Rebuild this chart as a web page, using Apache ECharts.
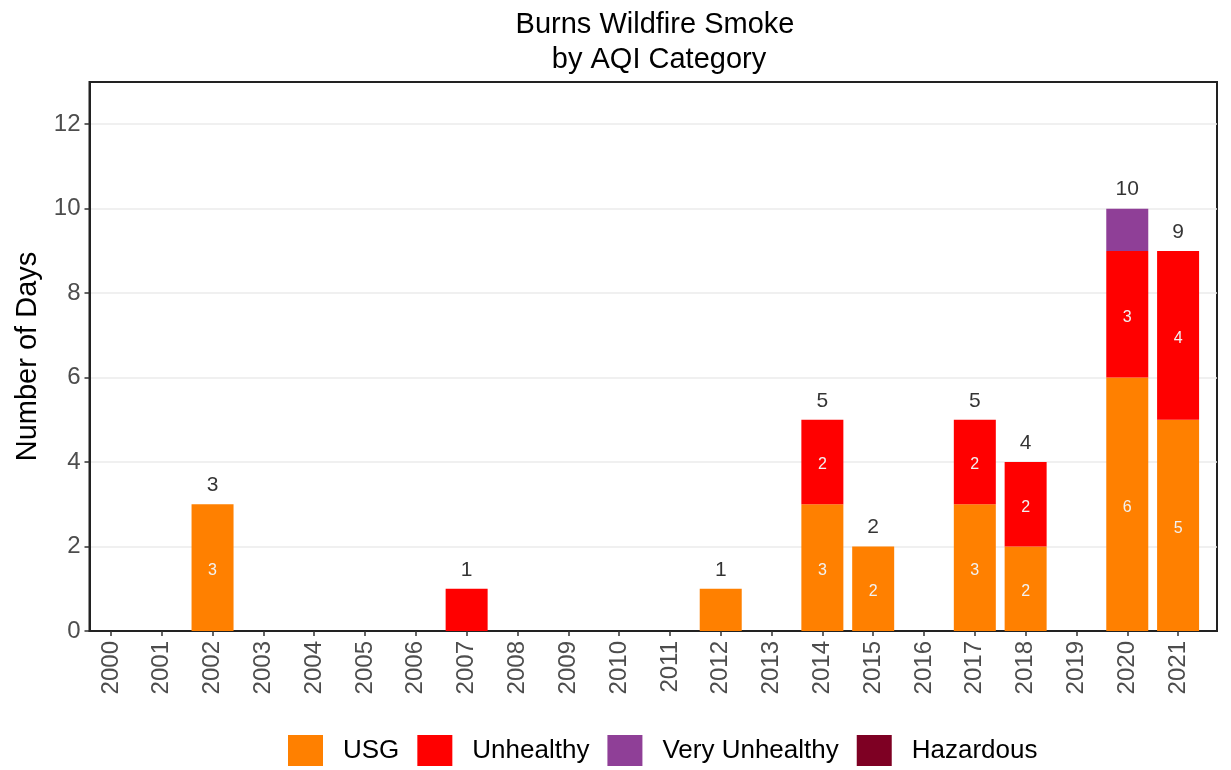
<!DOCTYPE html>
<html lang="en">
<head>
    <meta charset="UTF-8">
    <title>Burns Wildfire Smoke</title>
    <script src="https://cdn.jsdelivr.net/npm/echarts@6/dist/echarts.min.js"></script>
    <style>
        html, body { margin: 0; padding: 0; background: #fff; }
    </style>
</head>
<body>
    <div id="main" style="width:1231px;height:770px;"></div>

    <script type="text/javascript">
        // data
        var years = ['2000','2001','2002','2003','2004','2005','2006','2007','2008','2009','2010',
                     '2011','2012','2013','2014','2015','2016','2017','2018','2019','2020','2021'];
        var usg           = [null,null,3,null,null,null,null,null,null,null,null,null,1,null,3,2,null,3,2,null,6,5];
        var unhealthy     = [null,null,null,null,null,null,null,1,null,null,null,null,null,null,2,null,null,2,2,null,3,4];
        var veryUnhealthy = [null,null,null,null,null,null,null,null,null,null,null,null,null,null,null,null,null,null,null,null,1,null];
        var hazardous     = [null,null,null,null,null,null,null,null,null,null,null,null,null,null,null,null,null,null,null,null,null,null];
        var yTicks = [0, 2, 4, 6, 8, 10, 12];

        var font = 'Liberation Sans, Arial, sans-serif';

        // day count on top of each stack
        var totals = years.map(function (y, i) {
            var s = (usg[i] || 0) + (unhealthy[i] || 0) + (veryUnhealthy[i] || 0) + (hazardous[i] || 0);
            return s > 0 ? s : null;
        });

        function stackBar(name, values, color) {
            return {
                name: name,
                type: 'bar',
                stack: 'days',
                xAxisIndex: 1,
                yAxisIndex: 1,
                data: values,
                barWidth: 42,
                itemStyle: { color: color },
                label: {
                    show: true,
                    position: 'inside',
                    offset: [0, 3],
                    color: '#f2f2f2',
                    fontSize: 16,
                    fontFamily: font,
                    formatter: function (p) { return p.value >= 2 ? p.value : ''; }
                }
            };
        }

        var myChart = echarts.init(document.getElementById('main'));

        var option = {
            animation: false,
            title: {
                text: 'Burns Wildfire Smoke\n by AQI Category',
                left: 650,
                top: 2,
                textAlign: 'center',
                textStyle: {
                    fontFamily: font,
                    fontSize: 29,
                    fontWeight: 'normal',
                    color: '#000',
                    lineHeight: 35
                }
            },
            legend: {
                data: ['USG', 'Unhealthy', 'Very Unhealthy', 'Hazardous'],
                top: 735,
                left: 288,
                padding: 0,
                itemWidth: 35,
                itemHeight: 31,
                itemGap: 18,
                icon: 'rect',
                textStyle: { fontFamily: font, fontSize: 26, color: '#000', padding: [0, 0, 0, 15] }
            },
            // grid 0: panel frame and y scale, grid 1: the bars
            grid: [
                { left: 89.5, right: 14, top: 82, bottom: 139, show: true, borderColor: '#222', borderWidth: 2 },
                { left: 85.5, right: 27.5, top: 82, bottom: 139 }
            ],
            xAxis: [
                {
                    gridIndex: 0,
                    type: 'value',
                    min: 0,
                    max: 1,
                    axisLine: { show: true, lineStyle: { color: '#222', width: 2 } },
                    axisTick: { show: false },
                    axisLabel: { show: false },
                    splitLine: { show: false }
                },
                {
                    gridIndex: 1,
                    type: 'category',
                    data: years,
                    axisLine: { show: false },
                    axisTick: { show: true, alignWithLabel: true, length: 5, lineStyle: { color: '#333', width: 1.5 } },
                    axisLabel: {
                        rotate: 90,
                        interval: 0,
                        fontFamily: font,
                        fontSize: 24,
                        color: '#4d4d4d',
                        margin: 10
                    },
                    splitLine: { show: false }
                }
            ],
            yAxis: [
                {
                    gridIndex: 0,
                    type: 'value',
                    min: 0,
                    max: 13,
                    interval: 1,
                    name: 'Number of Days',
                    nameLocation: 'middle',
                    nameRotate: 90,
                    nameGap: 46,
                    nameTextStyle: { fontFamily: font, fontSize: 29, color: '#000' },
                    axisLine: { show: true, lineStyle: { color: '#222', width: 2 } },
                    axisTick: { show: true, length: 5, customValues: yTicks, lineStyle: { color: '#333', width: 1.5 } },
                    axisLabel: {
                        customValues: yTicks,
                        fontFamily: font,
                        fontSize: 24,
                        color: '#4d4d4d',
                        margin: 9
                    },
                    splitLine: { show: true, lineStyle: { color: '#ebebeb', width: 1.5 } }
                },
                {
                    gridIndex: 1,
                    type: 'value',
                    min: 0,
                    max: 13,
                    interval: 1,
                    axisLine: { show: false },
                    axisTick: { show: false },
                    axisLabel: { show: false },
                    splitLine: { show: false }
                }
            ],
            series: [
                stackBar('USG', usg, '#ff8000'),
                stackBar('Unhealthy', unhealthy, '#ff0000'),
                stackBar('Very Unhealthy', veryUnhealthy, '#8f3f97'),
                stackBar('Hazardous', hazardous, '#7e0023'),
                {
                    name: 'total',
                    type: 'scatter',
                    xAxisIndex: 1,
                    yAxisIndex: 1,
                    data: totals,
                    symbolSize: 1,
                    itemStyle: { color: 'rgba(0,0,0,0)' },
                    label: {
                        show: true,
                        position: 'top',
                        distance: 8,
                        color: '#000',
                        fontSize: 21,
                        fontFamily: font
                    },
                    z: 5
                }
            ]
        };

        myChart.setOption(option);
    </script>
</body>
</html>
